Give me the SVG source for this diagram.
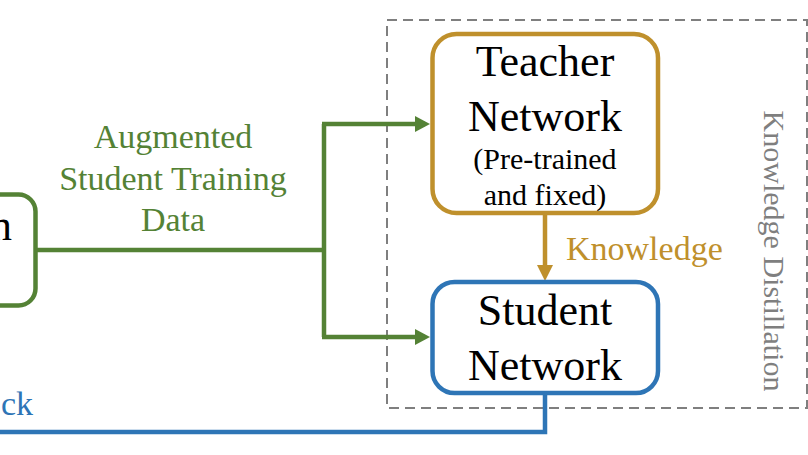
<svg xmlns="http://www.w3.org/2000/svg" width="808" height="455" viewBox="0 0 808 455">
  <style>
    .lbl { font-family: "Liberation Serif", "Times New Roman", serif; }
    .node { fill: #ffffff; stroke-width: 4.5; }
    .green { stroke: #548235; }
    .gold { stroke: #BF902C; }
    .blue { stroke: #2E75B6; }
    .wire { fill: none; stroke-width: 4.5; stroke-linejoin: miter; }
  </style>
  <defs>
    <marker id="ahGreen" markerUnits="userSpaceOnUse" markerWidth="16" markerHeight="17" refX="10" refY="8" orient="auto">
      <path d="M0,0 L15,8 L0,16 z" fill="#548235"/>
    </marker>
    <marker id="ahGold" markerUnits="userSpaceOnUse" markerWidth="16" markerHeight="17" refX="10" refY="8" orient="auto">
      <path d="M0,0 L16,8 L0,16 z" fill="#BF902C"/>
    </marker>
  </defs>
  <rect width="808" height="455" fill="#ffffff"/>

  <g id="kd-region">
    <rect x="387" y="20" width="420" height="388" fill="none" stroke="#7F7F7F" stroke-width="2" stroke-dasharray="10 6"/>
    <text class="lbl" transform="translate(764,251) rotate(90)" text-anchor="middle" font-size="30" fill="#7F7F7F">Knowledge Distillation</text>
  </g>

  <g id="connectors">
    <path class="wire green" d="M35,250 H324"/>
    <path class="wire green" d="M324,124 V337"/>
    <path class="wire green" d="M322,124 H425" marker-end="url(#ahGreen)"/>
    <path class="wire green" d="M322,337 H425" marker-end="url(#ahGreen)"/>
    <path class="wire gold" d="M545,213 V275" marker-end="url(#ahGold)"/>
    <path class="wire blue" d="M545,393 V432 H-5"/>
    <text class="lbl" x="173" y="148" text-anchor="middle" font-size="34" fill="#548235">Augmented</text>
    <text class="lbl" x="173" y="190" text-anchor="middle" font-size="34" fill="#548235">Student Training</text>
    <text class="lbl" x="173" y="231" text-anchor="middle" font-size="34" fill="#548235">Data</text>
    <text class="lbl" x="566" y="260" font-size="34" fill="#BF902C">Knowledge</text>
    <text class="lbl" x="33" y="415" text-anchor="end" font-size="34" fill="#2E75B6">ck</text>
  </g>

  <g id="augmentation-node">
    <rect class="node green" x="-200" y="194.5" width="235.5" height="111" rx="17"/>
    <text class="lbl" x="12" y="240" text-anchor="end" font-size="44" fill="#000000">n</text>
  </g>

  <g id="teacher-node">
    <rect class="node gold" x="432.5" y="34" width="225.5" height="179" rx="24"/>
    <text class="lbl" x="545" y="76" text-anchor="middle" font-size="44" fill="#000000">Teacher</text>
    <text class="lbl" x="545" y="131" text-anchor="middle" font-size="44" fill="#000000">Network</text>
    <text class="lbl" x="545" y="169" text-anchor="middle" font-size="30" fill="#000000">(Pre-trained</text>
    <text class="lbl" x="545" y="205" text-anchor="middle" font-size="30" fill="#000000">and fixed)</text>
  </g>

  <g id="student-node">
    <rect class="node blue" x="432.5" y="282" width="225.5" height="111" rx="22"/>
    <text class="lbl" x="545" y="325" text-anchor="middle" font-size="44" fill="#000000">Student</text>
    <text class="lbl" x="545" y="380" text-anchor="middle" font-size="44" fill="#000000">Network</text>
  </g>
</svg>
